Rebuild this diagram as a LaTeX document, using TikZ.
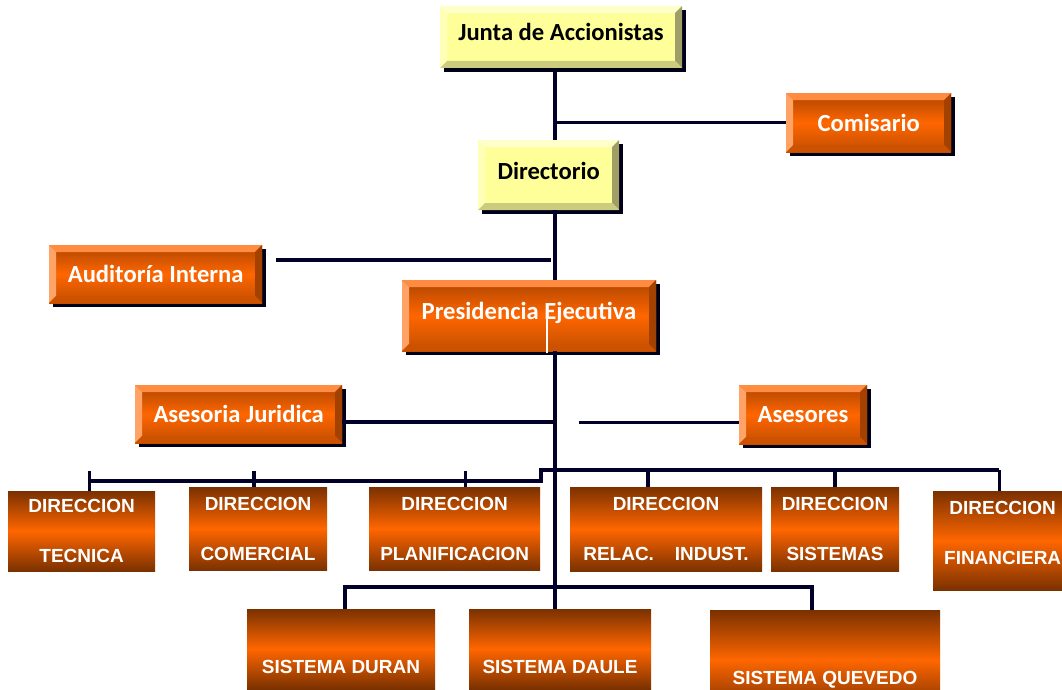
\documentclass[tikz,border=0pt]{standalone}
\usepackage{fontspec}
\usepackage{tikz}
\usetikzlibrary{calc,shadows}
\newfontfamily\calfont{Carlito}
\newfontfamily\arfont{Liberation Sans}

\definecolor{ylface}{HTML}{FFFF99}
\definecolor{yltop}{HTML}{FFFFCC}
\definecolor{ylleft}{HTML}{FFFFB8}
\definecolor{ylright}{HTML}{9E9E66}
\definecolor{ylbottom}{HTML}{CCCC80}
\definecolor{ortop}{HTML}{FF8C40}
\definecolor{orleft}{HTML}{FFA366}
\definecolor{orright}{HTML}{A34200}
\definecolor{orbottom}{HTML}{CC5200}
\definecolor{orfaceT}{HTML}{AD4500}
\definecolor{orfaceM}{HTML}{FF6600}
\definecolor{orfaceB}{HTML}{C24E00}
\definecolor{dirbrown}{HTML}{7A3100}
\definecolor{linecol}{HTML}{000028}
\definecolor{shadowcol}{HTML}{000018}

\newcommand\bev{0.21cm}
\tikzset{
  bevel/.style n args={4}{path picture={
    \fill[#1] (path picture bounding box.north west) -- (path picture bounding box.north east)
      -- ([shift={(-\bev,-\bev)}]path picture bounding box.north east)
      -- ([shift={(\bev,-\bev)}]path picture bounding box.north west) -- cycle;
    \fill[#2] (path picture bounding box.north west) -- (path picture bounding box.south west)
      -- ([shift={(\bev,\bev)}]path picture bounding box.south west)
      -- ([shift={(\bev,-\bev)}]path picture bounding box.north west) -- cycle;
    \fill[#3] (path picture bounding box.north east) -- (path picture bounding box.south east)
      -- ([shift={(-\bev,\bev)}]path picture bounding box.south east)
      -- ([shift={(-\bev,-\bev)}]path picture bounding box.north east) -- cycle;
    \fill[#4] (path picture bounding box.south west) -- (path picture bounding box.south east)
      -- ([shift={(-\bev,\bev)}]path picture bounding box.south east)
      -- ([shift={(\bev,\bev)}]path picture bounding box.south west) -- cycle;
  }}
}
\tikzstyle{orgline}=[draw=linecol, line width=2.6pt]
\tikzstyle{bevelbox}=[text centered, inner sep=0pt,
  font=\calfont\bfseries\fontsize{21}{25}\selectfont,
  drop shadow={shadow xshift=0.12cm, shadow yshift=-0.12cm, fill=shadowcol, opacity=1}]
\tikzstyle{raised}=[text height=0.47cm, text depth=0.23cm]
\tikzstyle{yellowbox}=[bevelbox, raised, fill=ylface, text=black,
  bevel={yltop}{ylleft}{ylright}{ylbottom}]
\tikzstyle{orangebox}=[bevelbox, top color=orfaceT, bottom color=orfaceB,
  middle color=orfaceM, text=white, bevel={ortop}{orleft}{orright}{orbottom}]
\tikzstyle{dirbox}=[top color=dirbrown, bottom color=dirbrown, middle color=orfaceM,
  text=white, align=center, inner sep=0pt,
  font=\arfont\bfseries\fontsize{16.2}{42.7}\selectfont]
\tikzstyle{sysbox}=[dirbox, text height=1.44cm, text depth=0pt]

\begin{document}
\begin{tikzpicture}
  \useasboundingbox (0,0) rectangle (31.86,-20.70);
  \fill[white] (0,0) rectangle (31.86,-20.70);
  \clip (0,0) rectangle (31.86,-20.70);
  \coordinate (spine) at (16.65,0);

  \node(junta)[yellowbox, minimum width=7.26cm, minimum height=1.86cm] at (16.83,-1.11)
  {Junta de Accionistas};

  \path(junta)+(9.23,-2.57) node(comis)[orangebox, minimum width=4.95cm, minimum height=1.77cm]{Comisario};
  \path(junta)+(-0.37,-4.14) node(direc)[yellowbox, minimum width=4.23cm, minimum height=2.10cm]{Directorio};
  \draw[orgline] (junta.south -| spine) -- (direc.north -| spine);
  \draw[orgline] (comis.west) -- (comis.west -| spine);

  \path(direc)+(-0.59,-4.22) node(presi)[orangebox, raised, minimum width=7.62cm, minimum height=2.13cm]{Presidencia Ejecutiva};
  \draw[orgline] (direc.south -| spine) -- (presi.north -| spine);

  \path(presi)+(-11.20,1.25) node(audit)[orangebox, minimum width=6.39cm, minimum height=1.74cm]{Auditoría Interna};
  \draw[orgline] ($(audit.east)+(0.42,0.42)$) -- ($(audit.east -| spine)+(-0.12,0.42)$);

  \path(presi)+(-8.71,-2.95) node(jurid)[orangebox, minimum width=6.21cm, minimum height=1.74cm]{Asesoria Juridica};
  \path(presi)+(8.22,-2.97) node(aseso)[orangebox, minimum width=3.84cm, minimum height=1.77cm]{Asesores};
  \draw[orgline] ($(jurid.east)+(0,-0.24)$) -- ($(jurid.east -| spine)+(0,-0.24)$);
  \draw[orgline] ($(aseso.west)+(0,-0.23)$) -- ++(-4.80,0);

  % direcciones
  \path(presi)+(-2.23,-6.39) node(plani)[dirbox, minimum width=5.13cm, minimum height=2.49cm]{DIRECCION\\PLANIFICACION};
  \path(plani)+(-5.90,0) node(comer)[dirbox, minimum width=4.14cm, minimum height=2.49cm]{DIRECCION\\COMERCIAL};
  \path(comer)+(-5.29,-0.07) node(tecn)[dirbox, minimum width=4.41cm, minimum height=2.40cm]{DIRECCION\\TECNICA};
  \path(plani)+(6.34,-0.01) node(relac)[dirbox, minimum width=5.76cm, minimum height=2.52cm]{DIRECCION\\RELAC.\hspace{1.1em}INDUST.};
  \path(relac)+(5.07,0) node(siste)[dirbox, minimum width=3.84cm, minimum height=2.52cm]{DIRECCION\\SISTEMAS};
  \path(siste)+(5.03,-0.35) node(finan)[dirbox, minimum width=4.17cm, minimum height=2.97cm, text depth=0.48cm]{DIRECCION\\FINANCIERA};

  % sistemas
  \path(plani)+(3.16,-3.61) node(daule)[sysbox, minimum width=5.46cm, minimum height=2.40cm]{SISTEMA DAULE};
  \path(daule)+(-6.57,0) node(duran)[sysbox, minimum width=5.64cm, minimum height=2.40cm]{SISTEMA DURAN};
  \path(daule)+(7.95,-0.33) node(queve)[sysbox, minimum width=6.90cm, minimum height=3.00cm]{SISTEMA QUEVEDO};

  \draw[orgline] (presi.south -| spine) -- (daule.north -| spine);
  \draw[white, line width=1pt] ([xshift=0.54cm,yshift=-0.06cm]presi.south) -- ++(0,1.2);

  \coordinate (busL) at (16.23,-14.43);
  \coordinate (busR) at (16.65,-14.10);
  \coordinate (tickTop) at (0,-14.13);
  \coordinate (busB) at (16.65,-17.61);
  \draw[orgline] ([xshift=0.225cm]tecn.north |- busL) -- (busL) |- (busR)
    -- ([xshift=-0.105cm]finan.north |- busR);
  \foreach \n/\dx in {tecn/0.225, comer/-0.12, plani/0.315}
    \draw[orgline] ([xshift=\dx cm]\n.north) -- ([xshift=\dx cm]\n.north |- tickTop);
  \foreach \n/\dx in {relac/-0.54, siste/0, finan/-0.105}
    \draw[orgline] ([xshift=\dx cm]\n.north) -- ([xshift=\dx cm]\n.north |- busR);
  \draw[orgline] ([xshift=0.12cm]duran.north) |- (busB) -| ([xshift=-0.39cm]queve.north);
\end{tikzpicture}
\end{document}
